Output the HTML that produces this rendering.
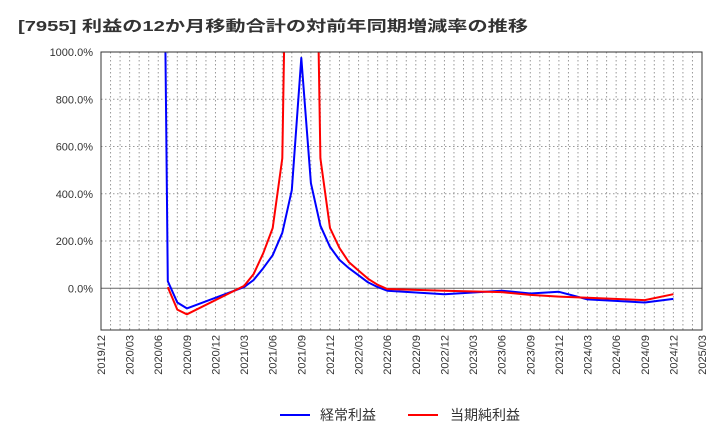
<!DOCTYPE html>
<html><head><meta charset="utf-8"><style>
body{margin:0;background:#fff;font-family:"Liberation Sans","Noto Sans CJK JP",sans-serif;}
</style></head><body>
<svg id="c" width="720" height="440" xmlns="http://www.w3.org/2000/svg" font-family="Liberation Sans, Noto Sans CJK JP, sans-serif">
<text x="18" y="31" font-size="15" font-weight="bold" fill="#333" textLength="510" lengthAdjust="spacingAndGlyphs">[7955]  利益の12か月移動合計の対前年同期増減率の推移</text>
<defs><clipPath id="clip"><rect x="101" y="52" width="601" height="278"/></clipPath></defs>
<g id="grid"></g><g id="series" clip-path="url(#clip)"></g><g id="axes"></g>
<g>
<line x1="280" y1="415" x2="310" y2="415" stroke="#0000ff" stroke-width="2"/>
<text x="320" y="420" font-size="14" fill="#333">経常利益</text>
<line x1="408" y1="415" x2="438" y2="415" stroke="#ff0000" stroke-width="2"/>
<text x="450" y="420" font-size="14" fill="#333">当期純利益</text>
</g>
</svg>
<script>
const xTickLabels=["2019/12","2020/03","2020/06","2020/09","2020/12","2021/03","2021/06","2021/09","2021/12","2022/03","2022/06","2022/09","2022/12","2023/03","2023/06","2023/09","2023/12","2024/03","2024/06","2024/09","2024/12","2025/03"];
const yTicks=[0,200,400,600,800,1000];
const blueMonths=[6,7,8,9,15,16,17,18,19,20,21,22,23,24,25,26,27,28,29,30,36,42,45,48,51,57,60];
const blueValues=[4000,30,-60,-85,5,35,85,140,235,415,975,445,265,175,120,85,55,25,5,-10,-25,-10,-22,-15,-47,-60,-45];
const redMonths=[7,8,9,15,16,17,18,19,20,21,22,23,24,25,26,27,28,29,30,36,42,45,48,51,57,60];
const redValues=[5,-90,-110,10,60,148,255,550,3000,3000,3000,550,255,170,110,75,40,15,-3,-10,-16,-28,-35,-40,-50,-25];
const NS="http://www.w3.org/2000/svg";
const X0=101,X1=702,Y0=52,Y1=330;
const xs=m=>X0+m*(X1-X0)/63;
const ys=v=>288.3-v*(288.3-52)/1000;
function el(t,a,p){const e=document.createElementNS(NS,t);for(const k in a)e.setAttribute(k,a[k]);p.appendChild(e);return e;}
const grid=document.getElementById('grid'),axes=document.getElementById('axes'),ser=document.getElementById('series');
for(let m=1;m<63;m++){const g=el('line',{x1:xs(m),x2:xs(m),y1:Y0,y2:Y1,stroke:'#999','stroke-dasharray':'1.5,2.5','stroke-width':1},grid);

}
yTicks.forEach(v=>{const y=ys(v);
const g=el('line',{x1:X0,x2:X1,y1:y,y2:y,stroke:v==0?'#666':'#999','stroke-dasharray':v==0?'':'1.5,2.5','stroke-width':1},grid);


const t=el('text',{x:93,y:y+4,'text-anchor':'end','font-size':11,fill:'#333'},axes);t.textContent=v.toFixed(1)+'%';

});
const fr=el('rect',{x:X0,y:Y0,width:X1-X0,height:Y1-Y0,fill:'none',stroke:'#333','stroke-width':1},axes);


xTickLabels.forEach((s,i)=>{const x=xs(i*3);
const t=el('text',{x:0,y:0,transform:`translate(${x+4},${Y1+5}) rotate(-90)`,'text-anchor':'end','font-size':11,fill:'#333'},axes);t.textContent=s;

});
function line(ms,vs,c,name){const d=ms.map((m,i)=>(i?'L':'M')+xs(m).toFixed(1)+','+ys(vs[i]).toFixed(1)).join('');
const p=el('path',{d:d,fill:'none',stroke:c,'stroke-width':2,'stroke-linejoin':'round'},ser);

}
line(blueMonths,blueValues,'#0000ff','keijo-line');
line(redMonths,redValues,'#ff0000','junrieki-line');
</script>
</body></html>
